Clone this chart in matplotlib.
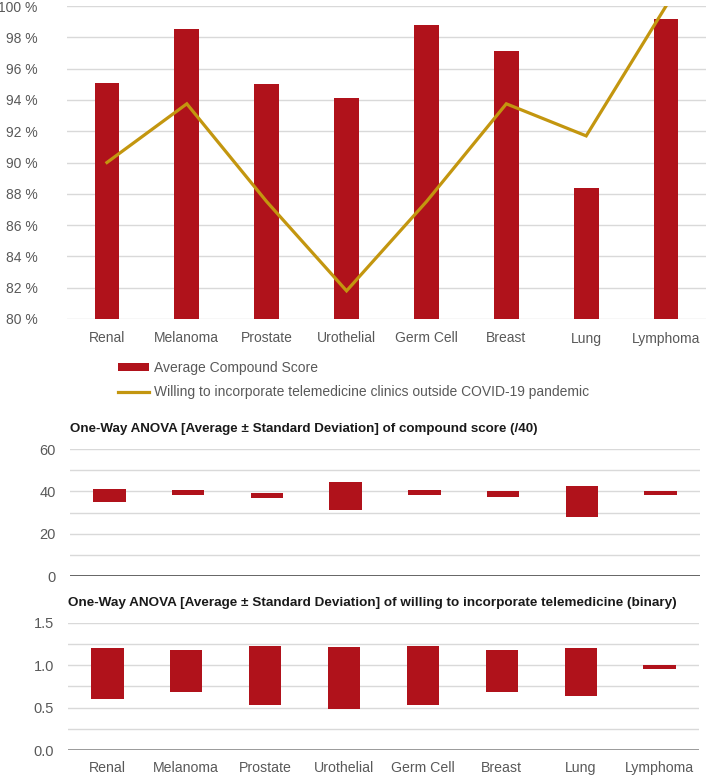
import matplotlib
matplotlib.use("Agg")
import matplotlib.pyplot as plt
from matplotlib.ticker import FuncFormatter, MultipleLocator
from matplotlib.patches import Patch
from matplotlib.lines import Line2D

plt.rcParams['font.family'] = ['Liberation Sans', 'DejaVu Sans']

categories = ["Renal", "Melanoma", "Prostate", "Urothelial", "Germ Cell", "Breast", "Lung", "Lymphoma"]
avg_compound_score = [95.1, 98.5, 95.0, 94.1, 98.8, 97.1, 88.4, 99.2]
willing_telemedicine = [90.0, 93.75, 87.5, 81.8, 87.5, 93.75, 91.7, 100.0]

compound_low = [34.9, 38.1, 36.7, 31.3, 38.1, 37.2, 27.8, 38.1]
compound_high = [41.1, 40.8, 39.2, 44.3, 40.8, 40.1, 42.5, 40.1]

binary_low = [0.605, 0.687, 0.53, 0.479, 0.53, 0.687, 0.632, 0.958]
binary_high = [1.20, 1.173, 1.224, 1.212, 1.224, 1.173, 1.20, 1.0]

label_bar = "Average Compound Score"
label_line = "Willing to incorporate telemedicine clinics outside COVID-19 pandemic"
title_mid = "One-Way ANOVA [Average \u00b1 Standard Deviation] of compound score (/40)"
title_bot = "One-Way ANOVA [Average \u00b1 Standard Deviation] of willing to incorporate telemedicine (binary)"

RED = "#B0121B"
GOLD = "#C3960F"
TXT = "#595959"
GRID = "#D9D9D9"

W, H = 708, 776
fig = plt.figure(figsize=(W / 100, H / 100), dpi=100)

def box(x0, x1, ytop, ybot):
    return [x0 / W, 1 - ybot / H, (x1 - x0) / W, (ybot - ytop) / H]

x = list(range(len(categories)))

# ---------- Top chart ----------
ax = fig.add_axes(box(67, 706, 6, 319))
ax.bar(x, [v - 80 for v in avg_compound_score], bottom=80, width=0.31, color=RED, zorder=2)
ax.plot(x, willing_telemedicine, color=GOLD, lw=2.3, zorder=3, solid_joinstyle='miter')
ax.set_ylim(80, 100)
ax.set_xlim(-0.5, len(categories) - 0.5)
ax.yaxis.set_major_locator(MultipleLocator(2))
ax.yaxis.set_major_formatter(FuncFormatter(lambda v, p: f"{v:.0f} %"))
ax.grid(axis='y', color=GRID, lw=1, zorder=0)
for s in ax.spines.values():
    s.set_visible(False)
ax.set_xticks(x)
ax.set_xticklabels(categories)
ax.tick_params(axis='both', length=0, labelsize=10, colors=TXT)
ax.tick_params(axis='y', pad=21)
ax.tick_params(axis='x', pad=9)

handles = [Patch(facecolor=RED, edgecolor='none'), Line2D([0], [0], color=GOLD, lw=2.3)]
fig.legend(handles, [label_bar, label_line], loc='upper left',
           bbox_to_anchor=(118 / W, 1 - 361 / H), frameon=False, fontsize=10,
           borderpad=0, borderaxespad=0, handlelength=2.2, handleheight=0.5,
           handletextpad=0.4, labelspacing=0.75, labelcolor=TXT)

# ---------- Middle chart ----------
ax2 = fig.add_axes(box(70, 700, 449, 576))
ax2.bar(x, [h - l for h, l in zip(compound_high, compound_low)], bottom=compound_low,
        width=0.41, color=RED, zorder=2)
ax2.set_ylim(0, 60)
ax2.set_xlim(-0.5, len(categories) - 0.5)
ax2.yaxis.set_major_locator(MultipleLocator(20))
ax2.yaxis.set_minor_locator(MultipleLocator(10))
ax2.grid(axis='y', which='both', color=GRID, lw=1, zorder=0)
for s in ax2.spines.values():
    s.set_visible(False)
ax2.axhline(0, color='#595959', lw=1.3, zorder=3)
ax2.set_xticks([])
ax2.tick_params(axis='y', which='both', length=0, labelsize=10.5, colors=TXT, pad=10)
fig.text(70 / W, 1 - 429 / H, title_mid, fontsize=9.6, fontweight='bold', color='#1a1a1a',
         va='center', ha='left')

# ---------- Bottom chart ----------
ax3 = fig.add_axes(box(68, 699, 622.7, 750))
ax3.bar(x, [h - l for h, l in zip(binary_high, binary_low)], bottom=binary_low,
        width=0.41, color=RED, zorder=2)
ax3.set_ylim(0, 1.5)
ax3.set_xlim(-0.5, len(categories) - 0.5)
ax3.yaxis.set_major_locator(MultipleLocator(0.5))
ax3.yaxis.set_minor_locator(MultipleLocator(0.25))
ax3.yaxis.set_major_formatter(FuncFormatter(lambda v, p: f"{v:.1f}"))
ax3.grid(axis='y', which='both', color=GRID, lw=1, zorder=0)
for s in ax3.spines.values():
    s.set_visible(False)
ax3.axhline(0, color='#7f7f7f', lw=1.8, zorder=3)
ax3.set_xticks(x)
ax3.set_xticklabels(categories)
ax3.tick_params(axis='both', which='both', length=0, labelsize=10.5, colors=TXT)
ax3.tick_params(axis='y', pad=10)
ax3.tick_params(axis='x', labelsize=10.2, pad=8)
fig.text(68 / W, 1 - 603 / H, title_bot, fontsize=9.7, fontweight='bold', color='#1a1a1a',
         va='center', ha='left')

fig.savefig("out.png", dpi=100)
